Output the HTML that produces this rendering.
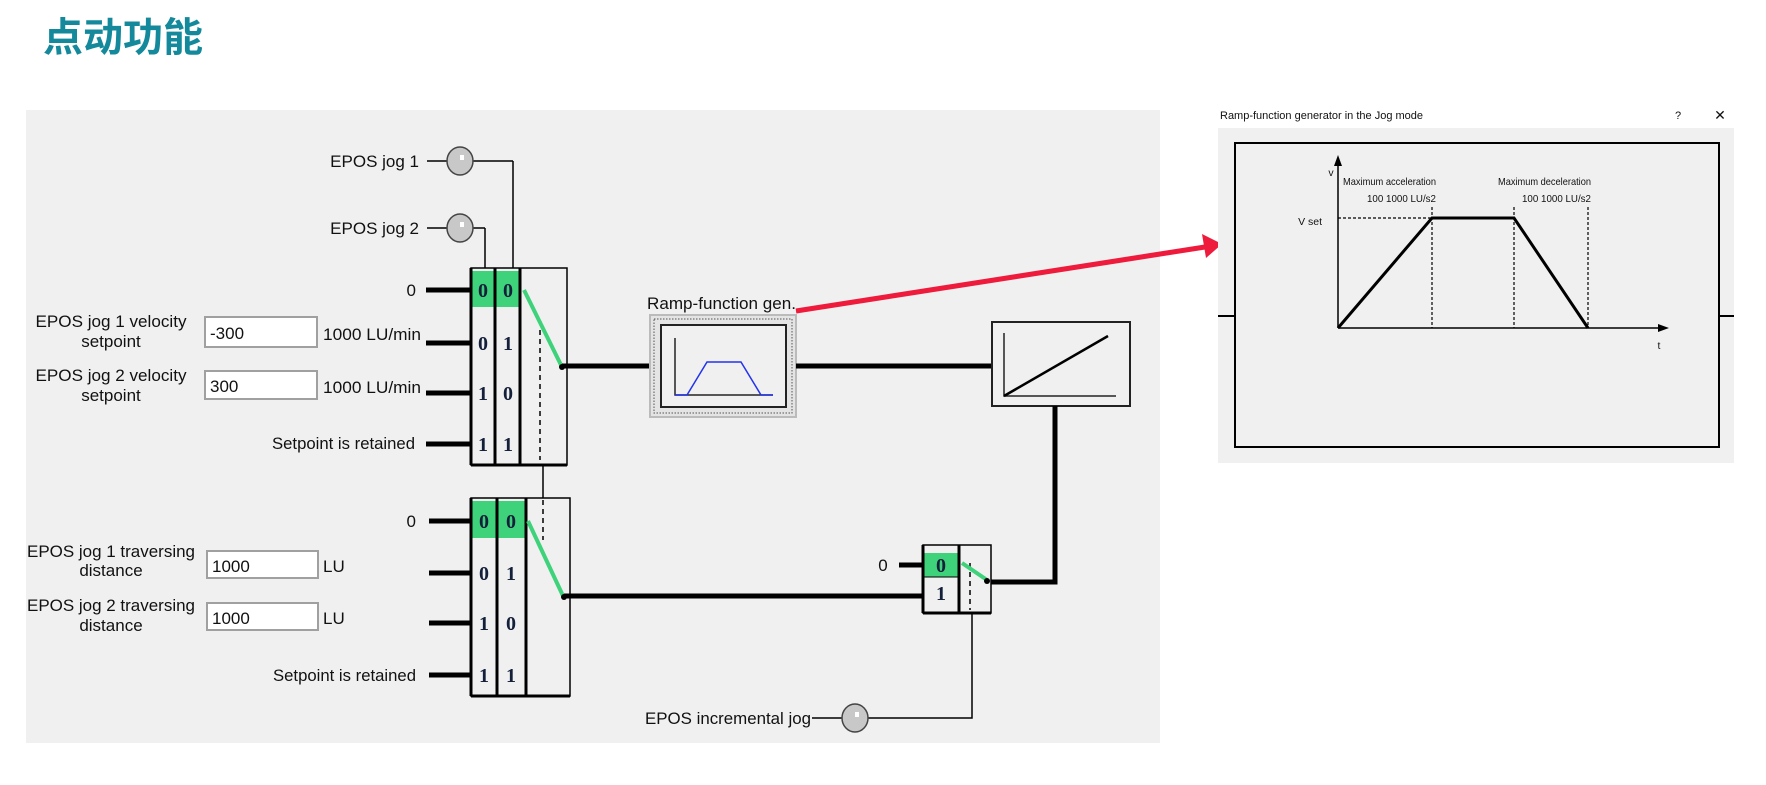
<!DOCTYPE html>
<html><head><meta charset="utf-8"><style>
html,body{margin:0;padding:0;background:#fff;}
svg{display:block;}
text{font-family:"Liberation Sans",sans-serif;fill:#111;}
.l{font-size:17px;}
.d{font-family:"Liberation Serif",serif;font-weight:bold;font-size:20px;fill:#14203a;}
.s{font-size:10.5px;}
</style></head><body>
<svg width="1766" height="785" viewBox="0 0 1766 785" xmlns="http://www.w3.org/2000/svg">
<text x="43" y="51" style="font-family:'Liberation Sans','Noto Sans CJK SC',sans-serif;font-weight:bold;font-size:40px;fill:#13899b">点动功能</text>
<rect x="26" y="110" width="1134" height="633" fill="#f0f0f0"/>

<!-- jog 1/2 -->
<text class="l" x="419" y="167" text-anchor="end">EPOS jog 1</text>
<line x1="427" y1="161" x2="448" y2="161" stroke="#000" stroke-width="1.5"/>
<line x1="473" y1="161" x2="513" y2="161" stroke="#000" stroke-width="1.5"/>
<line x1="513" y1="161" x2="513" y2="268" stroke="#000" stroke-width="1.5"/>
<ellipse cx="460" cy="161" rx="13" ry="14" fill="#c8c8c8" stroke="#444" stroke-width="1.5"/>
<rect x="460" y="155" width="4" height="5" fill="#fff"/>
<text class="l" x="419" y="234" text-anchor="end">EPOS jog 2</text>
<line x1="427" y1="228" x2="448" y2="228" stroke="#000" stroke-width="1.5"/>
<line x1="473" y1="228" x2="485" y2="228" stroke="#000" stroke-width="1.5"/>
<line x1="485" y1="228" x2="485" y2="268" stroke="#000" stroke-width="1.5"/>
<ellipse cx="460" cy="228" rx="13" ry="14" fill="#c8c8c8" stroke="#444" stroke-width="1.5"/>
<rect x="460" y="222" width="4" height="5" fill="#fff"/>

<!-- upper mux -->
<rect x="471" y="268" width="96" height="197" fill="#f0f0f0" stroke="#000" stroke-width="1.5"/>
<rect x="472" y="271" width="47" height="36" fill="#3ed27a"/>
<line x1="471" y1="268" x2="471" y2="465" stroke="#000" stroke-width="3"/>
<line x1="495" y1="268" x2="495" y2="465" stroke="#000" stroke-width="3"/>
<line x1="520" y1="268" x2="520" y2="465" stroke="#000" stroke-width="3"/>
<line x1="471" y1="465" x2="567" y2="465" stroke="#000" stroke-width="3"/>
<text class="d" x="483" y="297" text-anchor="middle">0</text><text class="d" x="508" y="297" text-anchor="middle">0</text>
<text class="d" x="483" y="350" text-anchor="middle">0</text><text class="d" x="508" y="350" text-anchor="middle">1</text>
<text class="d" x="483" y="400" text-anchor="middle">1</text><text class="d" x="508" y="400" text-anchor="middle">0</text>
<text class="d" x="483" y="451" text-anchor="middle">1</text><text class="d" x="508" y="451" text-anchor="middle">1</text>
<line x1="540" y1="330" x2="540" y2="460" stroke="#000" stroke-width="1.5" stroke-dasharray="5,4"/>
<line x1="524" y1="290" x2="562" y2="367" stroke="#3ed27a" stroke-width="4"/>
<circle cx="562" cy="367" r="3" fill="#000"/>
<g stroke="#000" stroke-width="5">
<line x1="426" y1="290" x2="471" y2="290"/><line x1="426" y1="343" x2="471" y2="343"/>
<line x1="426" y1="393" x2="471" y2="393"/><line x1="426" y1="444" x2="471" y2="444"/>
</g>
<text class="l" x="416" y="296" text-anchor="end">0</text>
<text class="l" x="111" y="327" text-anchor="middle" textLength="151" lengthAdjust="spacingAndGlyphs">EPOS jog 1 velocity</text>
<text class="l" x="111" y="347" text-anchor="middle">setpoint</text>
<text class="l" x="111" y="381" text-anchor="middle" textLength="151" lengthAdjust="spacingAndGlyphs">EPOS jog 2 velocity</text>
<text class="l" x="111" y="401" text-anchor="middle">setpoint</text>
<rect x="205" y="317" width="112" height="30" fill="#fff" stroke="#a0a0a0" stroke-width="2"/>
<rect x="205" y="371" width="112" height="28" fill="#fff" stroke="#a0a0a0" stroke-width="2"/>
<text class="l" x="210" y="339">-300</text><text class="l" x="210" y="392">300</text>
<text class="l" x="323" y="340" textLength="98" lengthAdjust="spacingAndGlyphs">1000 LU/min</text>
<text class="l" x="323" y="393" textLength="98" lengthAdjust="spacingAndGlyphs">1000 LU/min</text>
<text class="l" x="415" y="449" text-anchor="end" textLength="143" lengthAdjust="spacingAndGlyphs">Setpoint is retained</text>

<line x1="543" y1="465" x2="543" y2="498" stroke="#000" stroke-width="1.5"/>

<!-- lower mux -->
<rect x="471" y="498" width="99" height="198" fill="#f0f0f0" stroke="#000" stroke-width="1.5"/>
<rect x="472" y="501" width="53" height="37" fill="#3ed27a"/>
<line x1="471" y1="498" x2="471" y2="696" stroke="#000" stroke-width="3"/>
<line x1="497" y1="498" x2="497" y2="696" stroke="#000" stroke-width="3"/>
<line x1="526" y1="498" x2="526" y2="696" stroke="#000" stroke-width="3"/>
<line x1="471" y1="696" x2="570" y2="696" stroke="#000" stroke-width="3"/>
<text class="d" x="484" y="528" text-anchor="middle">0</text><text class="d" x="511" y="528" text-anchor="middle">0</text>
<text class="d" x="484" y="580" text-anchor="middle">0</text><text class="d" x="511" y="580" text-anchor="middle">1</text>
<text class="d" x="484" y="630" text-anchor="middle">1</text><text class="d" x="511" y="630" text-anchor="middle">0</text>
<text class="d" x="484" y="682" text-anchor="middle">1</text><text class="d" x="511" y="682" text-anchor="middle">1</text>
<line x1="543" y1="500" x2="543" y2="540" stroke="#000" stroke-width="1.5" stroke-dasharray="5,4"/>
<line x1="528" y1="521" x2="564" y2="598" stroke="#3ed27a" stroke-width="4"/>
<circle cx="564" cy="597" r="3" fill="#000"/>
<g stroke="#000" stroke-width="5">
<line x1="429" y1="521" x2="471" y2="521"/><line x1="429" y1="573" x2="471" y2="573"/>
<line x1="429" y1="623" x2="471" y2="623"/><line x1="429" y1="675" x2="471" y2="675"/>
</g>
<text class="l" x="416" y="527" text-anchor="end">0</text>
<text class="l" x="111" y="557" text-anchor="middle" textLength="168" lengthAdjust="spacingAndGlyphs">EPOS jog 1 traversing</text>
<text class="l" x="111" y="576" text-anchor="middle">distance</text>
<text class="l" x="111" y="611" text-anchor="middle" textLength="168" lengthAdjust="spacingAndGlyphs">EPOS jog 2 traversing</text>
<text class="l" x="111" y="631" text-anchor="middle">distance</text>
<rect x="207" y="551" width="111" height="27" fill="#fff" stroke="#a0a0a0" stroke-width="2"/>
<rect x="207" y="603" width="111" height="27" fill="#fff" stroke="#a0a0a0" stroke-width="2"/>
<text class="l" x="212" y="572">1000</text><text class="l" x="212" y="624">1000</text>
<text class="l" x="323" y="572">LU</text><text class="l" x="323" y="624">LU</text>
<text class="l" x="416" y="681" text-anchor="end" textLength="143" lengthAdjust="spacingAndGlyphs">Setpoint is retained</text>

<!-- ramp gen -->
<text class="l" x="647" y="309" textLength="149" lengthAdjust="spacingAndGlyphs">Ramp-function gen.</text>
<line x1="562" y1="366" x2="650" y2="366" stroke="#000" stroke-width="5"/>
<rect x="650" y="315" width="146" height="102" fill="#e4e4e4" stroke="#bbb" stroke-width="2"/>
<rect x="654" y="319" width="138" height="94" fill="none" stroke="#555" stroke-width="1" stroke-dasharray="1.5,1.5"/>
<rect x="661" y="325" width="125" height="82" fill="#f0f0f0" stroke="#222" stroke-width="2"/>
<polyline points="675,338 675,395 773,395" fill="none" stroke="#222" stroke-width="1.5"/>
<polyline points="675,395 687,395 707,362 741,362 761,395 773,395" fill="none" stroke="#2233ee" stroke-width="1.5"/>
<line x1="796" y1="366" x2="992" y2="366" stroke="#000" stroke-width="5"/>
<rect x="992" y="322" width="138" height="84" fill="#f0f0f0" stroke="#222" stroke-width="2"/>
<polyline points="1004,333 1004,396 1116,396" fill="none" stroke="#222" stroke-width="1.5"/>
<line x1="1004" y1="396" x2="1108" y2="336" stroke="#000" stroke-width="2.5"/>
<polyline points="1055,406 1055,582 989,582" fill="none" stroke="#000" stroke-width="5"/>

<!-- small mux -->
<line x1="564" y1="596" x2="923" y2="596" stroke="#000" stroke-width="5"/>
<rect x="923" y="545" width="68" height="68" fill="#f0f0f0" stroke="#000" stroke-width="1.5"/>
<rect x="924" y="553" width="35" height="24" fill="#3ed27a"/>
<line x1="923" y1="545" x2="923" y2="613" stroke="#000" stroke-width="3"/>
<line x1="959" y1="545" x2="959" y2="613" stroke="#000" stroke-width="3"/>
<line x1="923" y1="613" x2="991" y2="613" stroke="#000" stroke-width="3"/>
<line x1="923" y1="577" x2="959" y2="577" stroke="#000" stroke-width="1"/>
<text class="d" x="941" y="572" text-anchor="middle">0</text>
<text class="d" x="941" y="600" text-anchor="middle">1</text>
<line x1="899" y1="565" x2="923" y2="565" stroke="#000" stroke-width="5"/>
<text class="l" x="883" y="571" text-anchor="middle">0</text>
<line x1="970" y1="563" x2="970" y2="610" stroke="#000" stroke-width="1.5" stroke-dasharray="5,4"/>
<line x1="962" y1="563" x2="987" y2="580" stroke="#3ed27a" stroke-width="4"/>
<circle cx="987" cy="581" r="3" fill="#000"/>
<polyline points="972,613 972,718 868,718" fill="none" stroke="#000" stroke-width="1.5"/>
<line x1="812" y1="718" x2="842" y2="718" stroke="#000" stroke-width="1.5"/>
<ellipse cx="855" cy="718" rx="13" ry="14" fill="#c8c8c8" stroke="#444" stroke-width="1.5"/>
<rect x="855" y="712" width="4" height="5" fill="#fff"/>
<text class="l" x="645" y="724" textLength="166" lengthAdjust="spacingAndGlyphs">EPOS incremental jog</text>

<!-- red arrow -->
<line x1="796" y1="311" x2="1205" y2="247" stroke="#ee1b3c" stroke-width="5"/>
<polygon points="1222,244 1202,234 1206,258" fill="#ee1b3c"/>

<!-- dialog -->
<text x="1220" y="119" style="font-size:11px">Ramp-function generator in the Jog mode</text>
<text x="1678" y="119" style="font-size:11px" text-anchor="middle">?</text>
<text x="1720" y="120" style="font-size:14px" text-anchor="middle">✕</text>
<rect x="1218" y="128" width="516" height="335" fill="#f0f0f0"/>
<line x1="1218" y1="316" x2="1235" y2="316" stroke="#000" stroke-width="2"/>
<line x1="1719" y1="316" x2="1734" y2="316" stroke="#000" stroke-width="2"/>
<rect x="1235" y="143" width="484" height="304" fill="#f0f0f0" stroke="#000" stroke-width="2"/>
<line x1="1338" y1="328" x2="1338" y2="162" stroke="#000" stroke-width="1.5"/>
<polygon points="1338,155 1334,166 1342,166" fill="#000"/>
<line x1="1338" y1="328" x2="1659" y2="328" stroke="#000" stroke-width="1.5"/>
<polygon points="1669,328 1658,324 1658,332" fill="#000"/>
<g stroke="#000" stroke-width="1.2" stroke-dasharray="3,2">
<line x1="1338" y1="218" x2="1432" y2="218"/>
<line x1="1432" y1="207" x2="1432" y2="328"/>
<line x1="1514" y1="207" x2="1514" y2="328"/>
<line x1="1588" y1="207" x2="1588" y2="328"/>
</g>
<polyline points="1338,328 1432,218 1514,218 1588,328" fill="none" stroke="#000" stroke-width="3"/>
<text class="s" x="1331" y="176" text-anchor="middle">v</text>
<text class="s" x="1322" y="225" text-anchor="end">V set</text>
<text class="s" x="1659" y="349" text-anchor="middle">t</text>
<text class="s" x="1343" y="185" textLength="93" lengthAdjust="spacingAndGlyphs">Maximum acceleration</text>
<text class="s" x="1367" y="202" textLength="69" lengthAdjust="spacingAndGlyphs">100 1000 LU/s2</text>
<text class="s" x="1498" y="185" textLength="93" lengthAdjust="spacingAndGlyphs">Maximum deceleration</text>
<text class="s" x="1522" y="202" textLength="69" lengthAdjust="spacingAndGlyphs">100 1000 LU/s2</text>
</svg>
</body></html>
